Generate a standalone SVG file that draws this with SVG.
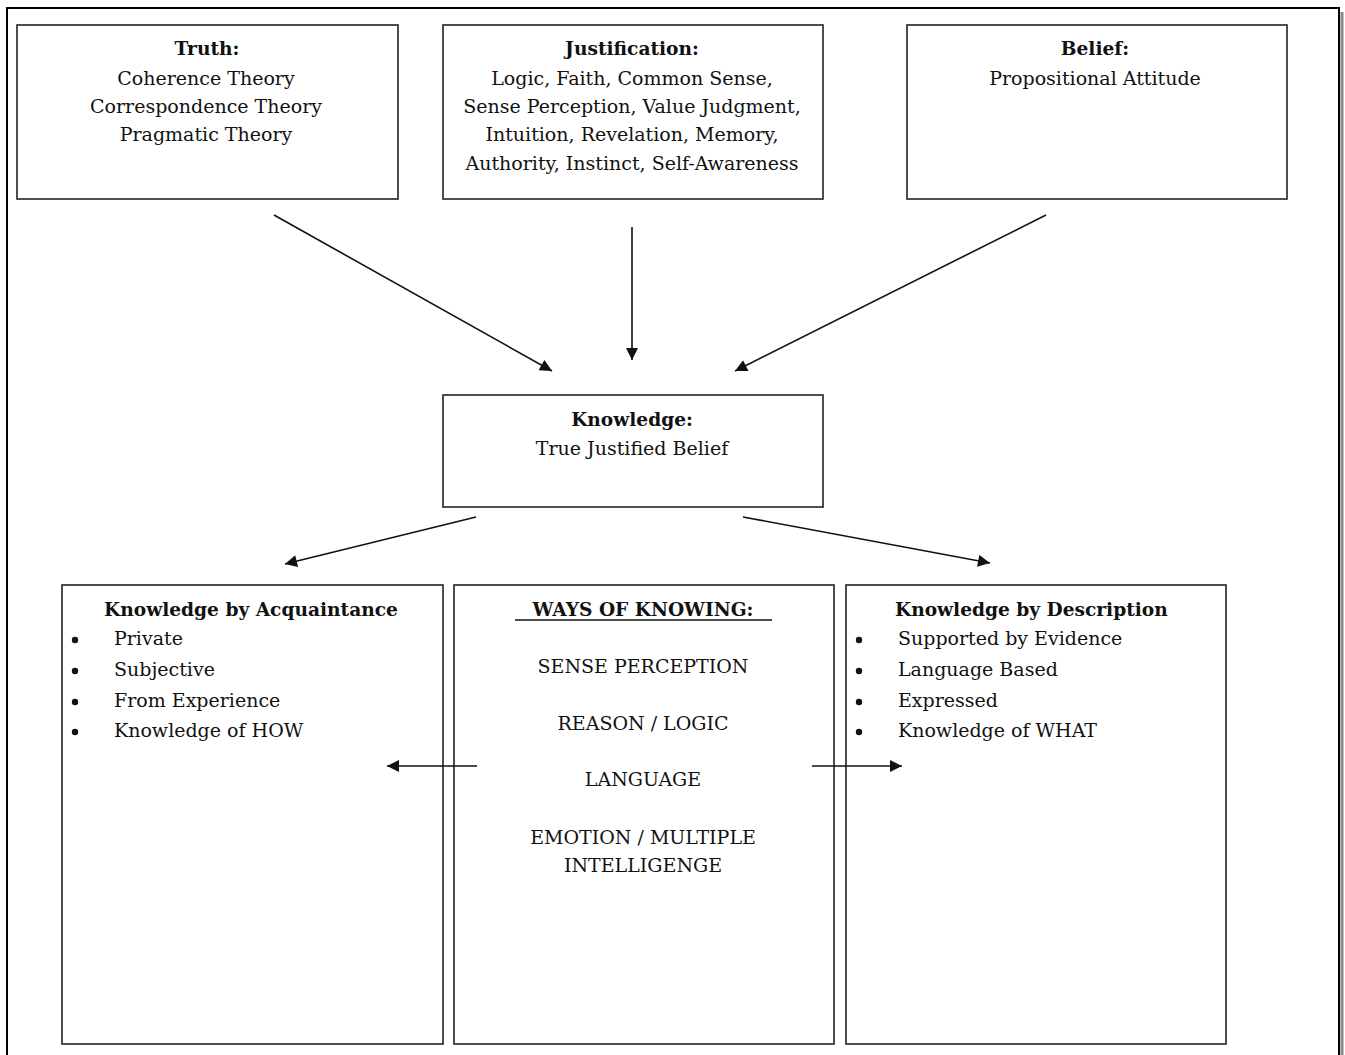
<svg xmlns="http://www.w3.org/2000/svg" width="1345" height="1055" viewBox="0 0 1345 1055">
<style>
.box{fill:#fff;stroke:#222;stroke-width:1.6}
text{font-family:"DejaVu Serif","Liberation Serif",serif;font-size:19px;fill:#111}
.t{font-weight:bold;font-size:18.6px}
.c{text-anchor:middle}
.ln{stroke:#111;stroke-width:1.6;fill:none}
</style>
<defs>
<marker id="ah" viewBox="0 0 10 10" refX="10" refY="5" markerWidth="15" markerHeight="12" markerUnits="userSpaceOnUse" orient="auto">
<path d="M0,0 L10,5 L0,10 Z" fill="#111"/>
</marker>
</defs>
<rect width="1345" height="1055" fill="#fff"/>
<g id="frame">
<path d="M1342,12 V1055" stroke="#888" stroke-width="3"/>
<path d="M7,1055 V8 H1339 V1055" fill="none" stroke="#000" stroke-width="2"/>
</g>
<g id="truth">
<rect class="box" x="17" y="25" width="381" height="174"/>
<text class="t c" x="207" y="55">Truth:</text>
<text class="c" x="206" y="85">Coherence Theory</text>
<text class="c" x="206" y="113">Correspondence Theory</text>
<text class="c" x="206" y="141">Pragmatic Theory</text>
</g>
<g id="justification">
<rect class="box" x="443" y="25" width="380" height="174"/>
<text class="t c" x="632" y="55">Justification:</text>
<text class="c" x="632" y="85">Logic, Faith, Common Sense,</text>
<text class="c" x="632" y="113">Sense Perception, Value Judgment,</text>
<text class="c" x="632" y="141">Intuition, Revelation, Memory,</text>
<text class="c" x="632" y="170">Authority, Instinct, Self-Awareness</text>
</g>
<g id="belief">
<rect class="box" x="907" y="25" width="380" height="174"/>
<text class="t c" x="1095" y="55">Belief:</text>
<text class="c" x="1095" y="85">Propositional Attitude</text>
</g>
<g id="knowledge">
<rect class="box" x="443" y="395" width="380" height="112"/>
<text class="t c" x="632" y="426">Knowledge:</text>
<text class="c" x="632" y="455">True Justified Belief</text>
</g>
<g id="acquaintance">
<rect class="box" x="62" y="585" width="381" height="459"/>
<text class="t c" x="251" y="616">Knowledge by Acquaintance</text>
<circle cx="75" cy="640" r="3.2" fill="#111"/>
<circle cx="75" cy="671" r="3.2" fill="#111"/>
<circle cx="75" cy="702" r="3.2" fill="#111"/>
<circle cx="75" cy="732" r="3.2" fill="#111"/>
<text x="114" y="645">Private</text>
<text x="114" y="676">Subjective</text>
<text x="114" y="707">From Experience</text>
<text x="114" y="737">Knowledge of HOW</text>
</g>
<g id="ways">
<rect class="box" x="454" y="585" width="380" height="459"/>
<text class="t c" x="643" y="616">WAYS OF KNOWING:</text>
<line x1="515" y1="620" x2="772" y2="620" stroke="#111" stroke-width="1.5"/>
<text class="c" x="643" y="673">SENSE PERCEPTION</text>
<text class="c" x="643" y="730">REASON / LOGIC</text>
<text class="c" x="643" y="786">LANGUAGE</text>
<text class="c" x="643" y="844">EMOTION / MULTIPLE</text>
<text class="c" x="643" y="872">INTELLIGENGE</text>
</g>
<g id="description">
<rect class="box" x="846" y="585" width="380" height="459"/>
<text class="t" x="895" y="616">Knowledge by Description</text>
<circle cx="859" cy="640" r="3.2" fill="#111"/>
<circle cx="859" cy="671" r="3.2" fill="#111"/>
<circle cx="859" cy="702" r="3.2" fill="#111"/>
<circle cx="859" cy="732" r="3.2" fill="#111"/>
<text x="898" y="645">Supported by Evidence</text>
<text x="898" y="676">Language Based</text>
<text x="898" y="707">Expressed</text>
<text x="898" y="737">Knowledge of WHAT</text>
</g>
<g id="connectors">
<line class="ln" x1="274" y1="215" x2="552" y2="371" marker-end="url(#ah)"/>
<line class="ln" x1="632" y1="227" x2="632" y2="360" marker-end="url(#ah)"/>
<line class="ln" x1="1046" y1="215" x2="735" y2="371" marker-end="url(#ah)"/>
<line class="ln" x1="476" y1="517" x2="285" y2="564" marker-end="url(#ah)"/>
<line class="ln" x1="743" y1="517" x2="990" y2="563" marker-end="url(#ah)"/>
<line class="ln" x1="477" y1="766" x2="387" y2="766" marker-end="url(#ah)"/>
<line class="ln" x1="812" y1="766" x2="902" y2="766" marker-end="url(#ah)"/>
</g>
</svg>
